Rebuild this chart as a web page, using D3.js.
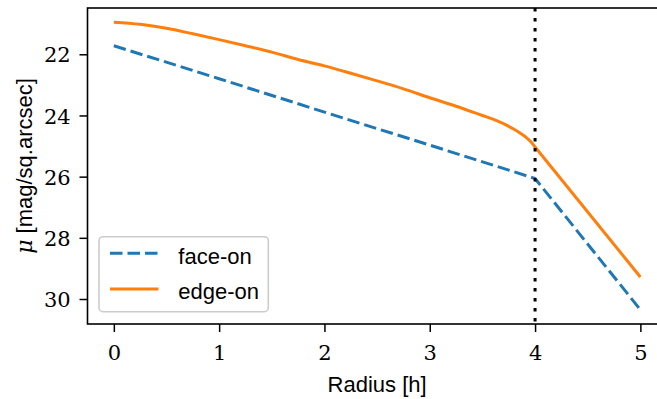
<!DOCTYPE html>
<html>
<head>
<meta charset="utf-8">
<script src="https://cdn.jsdelivr.net/npm/d3@7"></script>
<style>
  html, body { margin: 0; padding: 0; background: #fff; }
  svg { display: block; }
</style>
</head>
<body>
<svg id="chart" width="657" height="399"></svg>
<script>
// ---- data ----
const faceRadius = [0, 1, 2, 3, 4, 5];
const faceOn     = [21.72, 22.80, 23.89, 24.97, 26.06, 30.35];

// edge-on: smooth part inside the truncation radius, then a straight segment outside
const edgeRadius = [0, 0.25, 0.5, 0.75, 1.0, 1.25, 1.5, 1.75, 2.0, 2.25, 2.5, 2.75, 3.0, 3.25, 3.5, 3.6, 3.7, 3.8, 3.86, 3.92, 3.96, 4.0, 5.0];
const edgeOn     = [20.95, 21.02, 21.15, 21.33, 21.52, 21.72, 21.93, 22.17, 22.38, 22.62, 22.87, 23.13, 23.42, 23.70, 24.00, 24.12, 24.27, 24.45, 24.58, 24.73, 24.86, 25.03, 29.28];

const xTicks = [0, 1, 2, 3, 4, 5];
const yTicks = [22, 24, 26, 28, 30];
const truncationRadius = 4;
const seriesNames = ["face-on", "edge-on"];

// ---- layout ----
const svg = d3.select("#chart");
const mLeft = 87.5, mTop = 8, mBottom = 324, mRight = 666.7;

const x = d3.scaleLinear().domain([-0.25, 5.25]).range([mLeft, mRight]);
const y = d3.scaleLinear().domain([20.487, 30.817]).range([mTop, mBottom]);

const blue = "#1f77b4", orange = "#ff7f0e";
const serif = "DejaVu Serif";
const sans = "'Liberation Sans', Arial, sans-serif";

// face-on (piecewise straight, dashed)
const line = d3.line().x(d => x(d[0])).y(d => y(d[1]));
svg.append("path")
  .datum(faceRadius.map((r, i) => [r, faceOn[i]]))
  .attr("d", line)
  .attr("fill", "none")
  .attr("stroke", blue)
  .attr("stroke-width", 3)
  .attr("stroke-dasharray", "12.5,5");

// edge-on: smooth inside truncation, straight beyond
const edgePts = edgeRadius.map((r, i) => [r, edgeOn[i]]);
const inner = edgePts.filter(d => d[0] <= truncationRadius);
const outer = edgePts.filter(d => d[0] > truncationRadius);
const smooth = d3.line().curve(d3.curveMonotoneX).x(d => x(d[0])).y(d => y(d[1]));
const edgeD = smooth(inner) + outer.map(d => `L${x(d[0])},${y(d[1])}`).join("");
svg.append("path")
  .attr("d", edgeD)
  .attr("fill", "none")
  .attr("stroke", orange)
  .attr("stroke-width", 3)
  .attr("stroke-linejoin", "round");

// vertical dotted line at truncation
svg.append("line")
  .attr("x1", x(truncationRadius)).attr("x2", x(truncationRadius))
  .attr("y1", mTop).attr("y2", mBottom)
  .attr("stroke", "#000")
  .attr("stroke-width", 3)
  .attr("stroke-dasharray", "3.5,6.5");

// axes
const gx = svg.append("g")
  .attr("transform", `translate(0,${mBottom})`)
  .call(d3.axisBottom(x).tickValues(xTicks).tickFormat(d3.format("d")).tickSize(8).tickSizeOuter(0));
gx.select(".domain").remove();
gx.selectAll(".tick line").attr("stroke", "#000").attr("stroke-width", 1.5);
gx.selectAll("text")
  .attr("dy", null).attr("y", 35.5)
  .attr("fill", "#000")
  .style("font-family", serif)
  .style("font-size", "21px");

const gy = svg.append("g")
  .attr("transform", `translate(${mLeft},0)`)
  .call(d3.axisLeft(y).tickValues(yTicks).tickFormat(d3.format("d")).tickSize(8).tickPadding(8.8).tickSizeOuter(0));
gy.select(".domain").remove();
gy.selectAll(".tick line").attr("stroke", "#000").attr("stroke-width", 1.5);
gy.selectAll("text")
  .attr("dy", "0.36em")
  .attr("fill", "#000")
  .style("font-family", serif)
  .style("font-size", "21px");

// frame
svg.append("rect")
  .attr("x", mLeft).attr("y", mTop)
  .attr("width", mRight - mLeft).attr("height", mBottom - mTop)
  .attr("fill", "none")
  .attr("stroke", "#000")
  .attr("stroke-width", 1.6);

// axis labels
svg.append("text")
  .attr("x", (mLeft + mRight) / 2).attr("y", 391.5)
  .attr("text-anchor", "middle")
  .style("font-family", sans).style("font-size", "22px")
  .text("Radius [h]");

const yl = svg.append("text")
  .attr("transform", `translate(32,${(mTop + mBottom) / 2}) rotate(-90)`)
  .attr("text-anchor", "middle")
  .style("font-family", sans).style("font-size", "22px");
yl.append("tspan").style("font-family", serif).style("font-style", "italic").style("font-size", "22px").text("μ");
yl.append("tspan").text(" [mag/sq.arcsec]");

// legend
const lg = svg.append("g");
lg.append("rect")
  .attr("x", 99).attr("y", 236.7)
  .attr("width", 169.3).attr("height", 75)
  .attr("rx", 4).attr("ry", 4)
  .attr("fill", "#fff").attr("fill-opacity", 0.8)
  .attr("stroke", "#cccccc").attr("stroke-width", 1.6);

const legendItems = [
  {name: seriesNames[0], color: blue, dash: "12.5,5", ly: 253.3, ty: 263.5},
  {name: seriesNames[1], color: orange, dash: null, ly: 289, ty: 298.5}
];
legendItems.forEach(it => {
  lg.append("line")
    .attr("x1", 110).attr("x2", 158.5)
    .attr("y1", it.ly).attr("y2", it.ly)
    .attr("stroke", it.color).attr("stroke-width", 3)
    .attr("stroke-dasharray", it.dash);
  lg.append("text")
    .attr("x", 178.3).attr("y", it.ty)
    .style("font-family", sans).style("font-size", "22px")
    .text(it.name);
});
</script>
</body>
</html>
